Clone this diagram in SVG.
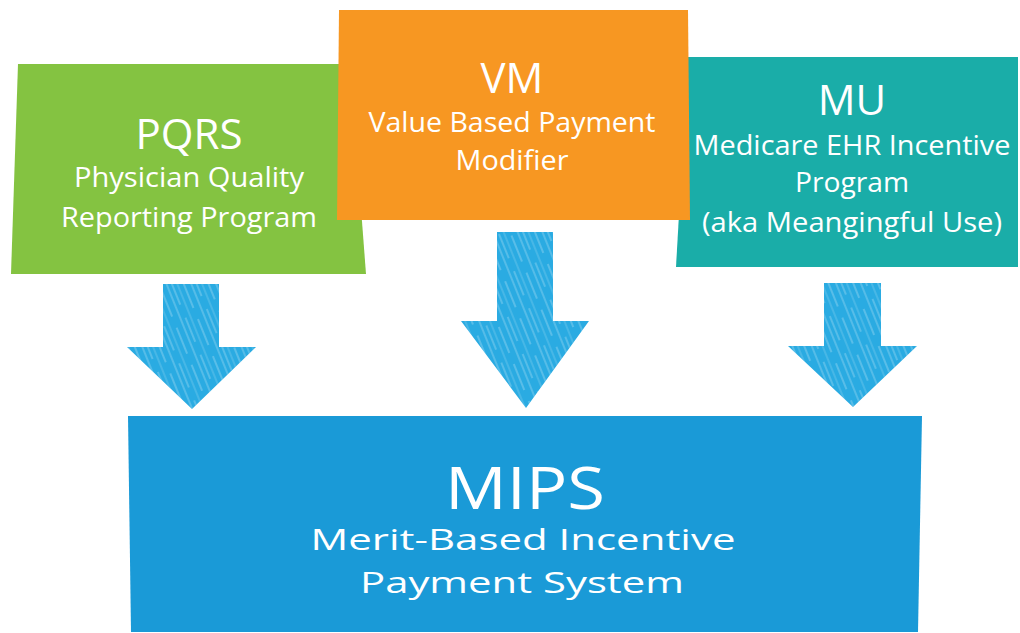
<svg xmlns="http://www.w3.org/2000/svg" width="1020" height="633" viewBox="0 0 1020 633">
<defs>
<style>
.t{font-family:"Open Sans","Noto Sans","Liberation Sans",sans-serif;fill:#ffffff;text-anchor:middle}
.arrow{fill:#2AABE2}
.hatch{fill:url(#hatch)}
</style>
<pattern id="hatch" width="23" height="40" patternUnits="userSpaceOnUse" patternTransform="rotate(-22)">
<line x1="2" y1="0" x2="2" y2="40" stroke="#ffffff" stroke-width="1" stroke-opacity="0.4"/>
<line x1="7" y1="4" x2="7" y2="30" stroke="#ffffff" stroke-width="1.2" stroke-opacity="0.35"/>
<line x1="12" y1="0" x2="12" y2="40" stroke="#ffffff" stroke-width="0.9" stroke-opacity="0.3"/>
<line x1="18" y1="10" x2="18" y2="38" stroke="#ffffff" stroke-width="1.1" stroke-opacity="0.4"/>
</pattern>
</defs>
<rect width="1020" height="633" fill="#ffffff"/>
<g id="pqrs">
<polygon points="18,64 350,64 366,274 11,274" fill="#84C341"/>
<text class="t" x="189" y="149" font-size="42">PQRS</text>
<text class="t" x="189" y="187" font-size="28" textLength="230" lengthAdjust="spacingAndGlyphs">Physician Quality</text>
<text class="t" x="189" y="227" font-size="28" textLength="256" lengthAdjust="spacingAndGlyphs">Reporting Program</text>
</g>
<g id="mu">
<polygon points="688,57 1018,57 1018,267 676,267" fill="#1AADA8"/>
<text class="t" x="852" y="115" font-size="42">MU</text>
<text class="t" x="852" y="155" font-size="28" textLength="317" lengthAdjust="spacingAndGlyphs">Medicare EHR Incentive</text>
<text class="t" x="852" y="192" font-size="28" textLength="114" lengthAdjust="spacingAndGlyphs">Program</text>
<text class="t" x="852" y="232" font-size="28" textLength="300" lengthAdjust="spacingAndGlyphs">(aka Meangingful Use)</text>
</g>
<g id="vm">
<polygon points="339,10 688,10 690,220 337,220" fill="#F79722"/>
<text class="t" x="512" y="93" font-size="42">VM</text>
<text class="t" x="512" y="132" font-size="28" textLength="287" lengthAdjust="spacingAndGlyphs">Value Based Payment</text>
<text class="t" x="512" y="170" font-size="28" textLength="113" lengthAdjust="spacingAndGlyphs">Modifier</text>
</g>
<g id="mips">
<polygon points="128,416 922,416 918,632 131,632" fill="#1A9AD7"/>
<text class="t" x="525" y="509" font-size="58" textLength="160" lengthAdjust="spacingAndGlyphs">MIPS</text>
<text class="t" x="523" y="550" font-size="29" textLength="425" lengthAdjust="spacingAndGlyphs">Merit-Based Incentive</text>
<text class="t" x="522" y="593" font-size="30" textLength="324" lengthAdjust="spacingAndGlyphs">Payment System</text>
</g>
<g id="connectors">
<path class="arrow" d="M163,284 L219,284 L219,347 L256,347 L192,409 L127,347 L163,347 Z"/>
<path class="hatch" d="M163,284 L219,284 L219,347 L256,347 L192,409 L127,347 L163,347 Z"/>
<path class="arrow" d="M497,232 L553,232 L553,321 L589,321 L526,408 L461,321 L497,321 Z"/>
<path class="hatch" d="M497,232 L553,232 L553,321 L589,321 L526,408 L461,321 L497,321 Z"/>
<path class="arrow" d="M824,283 L881,283 L881,346 L917,346 L853,407 L788,346 L824,346 Z"/>
<path class="hatch" d="M824,283 L881,283 L881,346 L917,346 L853,407 L788,346 L824,346 Z"/>
</g>
</svg>
